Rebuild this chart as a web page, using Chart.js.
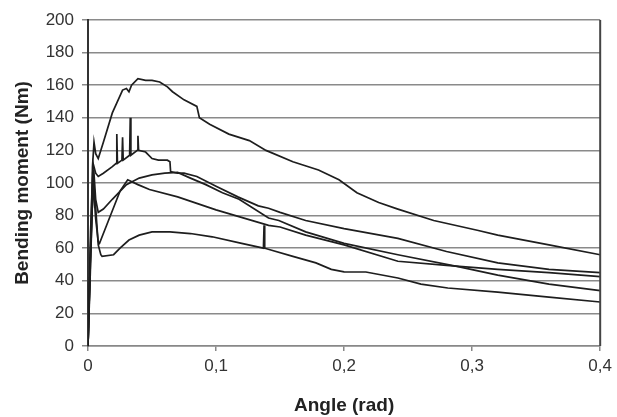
<!DOCTYPE html>
<html>
<head>
  <title>Bending moment vs angle</title>
  <script src="https://cdn.jsdelivr.net/npm/chart.js@4.4.1/dist/chart.umd.min.js"></script>
  <style>
    html, body { margin: 0; padding: 0; background: #fff; }
    #wrap { width: 617px; height: 417px; }
  </style>
</head>
<body>
  <div id="wrap"><canvas id="myChart"></canvas></div>

  <script>
    // curve A (highest, peak ~163)
    const angleA  = [0, 0.002, 0.0035, 0.0047, 0.006, 0.008, 0.012, 0.019, 0.027, 0.030, 0.032, 0.034, 0.039, 0.045, 0.050, 0.056, 0.062, 0.066, 0.075, 0.085, 0.087, 0.095, 0.110, 0.126, 0.139, 0.160, 0.180, 0.196, 0.210, 0.227, 0.242, 0.270, 0.304, 0.320, 0.360, 0.400];
    const momentA = [0, 60, 110, 125, 118, 115, 125, 143, 157, 158, 156, 160, 164, 163, 163, 162, 159, 156, 151, 147, 140, 136, 130, 126, 120, 113, 108, 102, 94, 88, 84, 77, 71, 68, 62, 56];

    // curve B (with spikes around 0.02-0.04)
    const angleB  = [0, 0.002, 0.004, 0.006, 0.008, 0.012, 0.019, 0.0220, 0.0225, 0.0230, 0.0265, 0.0270, 0.0275, 0.0325, 0.0330, 0.0335, 0.0385, 0.0390, 0.0395, 0.045, 0.050, 0.055, 0.062, 0.064, 0.0645, 0.070, 0.075, 0.085, 0.100, 0.117, 0.133, 0.141, 0.150, 0.170, 0.200, 0.242, 0.280, 0.320, 0.360, 0.400];
    const momentB = [0, 70, 112, 106, 104, 106, 110, 112, 130, 112, 114, 128, 114, 117, 140, 117, 120, 129, 120, 119, 115, 114, 114, 113, 107, 106, 106, 104, 98, 91.5, 86, 84.5, 82, 77, 72, 66, 58, 51, 47, 45];

    // curve C (peak ~106 around 0.07)
    const angleC  = [0, 0.002, 0.0045, 0.006, 0.008, 0.012, 0.019, 0.030, 0.040, 0.050, 0.060, 0.070, 0.080, 0.092, 0.105, 0.118, 0.141, 0.149, 0.170, 0.200, 0.242, 0.290, 0.320, 0.360, 0.400];
    const momentC = [0, 60, 108, 90, 82, 84, 90, 99, 103, 105, 106, 106.5, 103, 99, 94, 90, 78.5, 77, 70, 63, 56, 48.5, 43.5, 38, 34];

    // curve D (early peak ~102)
    const angleD  = [0, 0.002, 0.004, 0.006, 0.008, 0.009, 0.015, 0.020, 0.025, 0.031, 0.039, 0.048, 0.070, 0.100, 0.141, 0.150, 0.170, 0.200, 0.242, 0.280, 0.320, 0.360, 0.400];
    const momentD = [0, 55, 100, 78, 64, 63, 75, 85, 95, 102, 99, 96, 91.5, 83.5, 74, 73, 68, 62, 52, 49.5, 47, 45, 42.6];

    // curve E (lowest, ~70 plateau)
    const angleE  = [0, 0.002, 0.004, 0.006, 0.008, 0.010, 0.011, 0.020, 0.025, 0.032, 0.040, 0.050, 0.064, 0.080, 0.097, 0.120, 0.137, 0.1375, 0.138, 0.160, 0.178, 0.190, 0.200, 0.217, 0.242, 0.260, 0.281, 0.320, 0.360, 0.400];
    const momentE = [0, 50, 105, 85, 62, 56, 55, 56, 60, 65, 68, 70, 70, 69, 67, 63, 60, 74, 60, 55, 51, 47, 45.5, 45.4, 41.7, 38, 35.6, 33, 30, 27];

    const yTicks = [0, 20, 40, 60, 80, 100, 120, 140, 160, 180, 200];
    const xTicks = [0, 0.1, 0.2, 0.3, 0.4];

    const series = [
      [angleA, momentA],
      [angleB, momentB],
      [angleC, momentC],
      [angleD, momentD],
      [angleE, momentE]
    ];

    const datasets = series.map(function (s) {
      return {
        data: s[0].map(function (x, i) { return { x: x, y: s[1][i] }; }),
        showLine: true,
        borderColor: '#1e1e1e',
        borderWidth: 1.7,
        pointRadius: 0,
        tension: 0
      };
    });

    // right frame line of the plot area
    const rightFrame = {
      id: 'rightFrame',
      afterDraw(chart) {
        const a = chart.chartArea;
        const ctx = chart.ctx;
        ctx.save();
        ctx.strokeStyle = '#444';
        ctx.lineWidth = 2;
        ctx.beginPath();
        ctx.moveTo(a.right, a.top);
        ctx.lineTo(a.right, a.bottom);
        ctx.stroke();
        ctx.restore();
      }
    };

    const fontFamily = 'Liberation Sans, Arial, sans-serif';

    new Chart(document.getElementById('myChart'), {
      type: 'scatter',
      data: { datasets: datasets },
      plugins: [rightFrame],
      options: {
        responsive: true,
        maintainAspectRatio: false,
        animation: false,
        layout: { padding: { top: 20, right: 14, bottom: 0, left: 0 } },
        plugins: {
          legend: { display: false },
          tooltip: { enabled: false }
        },
        scales: {
          x: {
            type: 'linear',
            min: 0,
            max: 0.4,
            afterFit(scale) { scale.height = 71; },
            afterBuildTicks(scale) { scale.ticks = xTicks.map(function (v) { return { value: v }; }); },
            ticks: {
              color: '#333',
              font: { family: fontFamily, size: 17 },
              padding: 5,
              maxRotation: 0,
              callback: function (v) { return String(v).replace('.', ','); }
            },
            grid: { drawOnChartArea: false, drawTicks: true, tickLength: 5, color: '#888', lineWidth: 1.5 },
            border: { color: '#888', width: 1.5 },
            title: {
              display: true,
              text: 'Angle (rad)',
              color: '#222',
              font: { family: fontFamily, size: 19, weight: 'bold' },
              padding: { top: 0, bottom: 0 }
            }
          },
          y: {
            min: 0,
            max: 200,
            afterFit(scale) { scale.width = 88; },
            afterBuildTicks(scale) { scale.ticks = yTicks.map(function (v) { return { value: v }; }); },
            ticks: {
              color: '#333',
              font: { family: fontFamily, size: 17 },
              padding: 8
            },
            grid: { color: '#8a8a8a', lineWidth: 1.5, tickLength: 6 },
            border: { color: '#333', width: 2 },
            title: {
              display: true,
              text: 'Bending moment (Nm)',
              color: '#222',
              font: { family: fontFamily, size: 19, weight: 'bold' },
              padding: { top: 11, bottom: 0 }
            }
          }
        }
      }
    });
  </script>
</body>
</html>
